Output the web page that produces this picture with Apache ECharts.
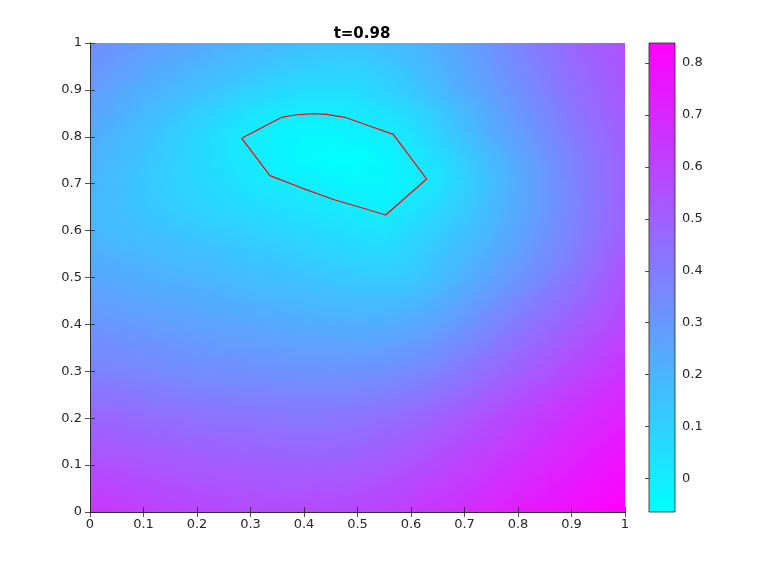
<!DOCTYPE html>
<html>
<head>
<meta charset="utf-8">
<script src="https://cdn.jsdelivr.net/npm/echarts@6/dist/echarts.min.js"></script>
<style>
html, body { margin: 0; padding: 0; background: #fff; }
#chart { width: 768px; height: 576px; }
</style>
</head>
<body>
<div id="chart"></div>
<script>
// sample positions of the level-set field (step 0.05)
var gridX = [0, 0.05, 0.1, 0.15, 0.2, 0.25, 0.3, 0.35, 0.4, 0.45, 0.5, 0.55, 0.6, 0.65, 0.7, 0.75, 0.8, 0.85, 0.9, 0.95, 1];
var gridY = [0, 0.05, 0.1, 0.15, 0.2, 0.25, 0.3, 0.35, 0.4, 0.45, 0.5, 0.55, 0.6, 0.65, 0.7, 0.75, 0.8, 0.85, 0.9, 0.95, 1];

// field values, one row per y
var r100 = [0.34, 0.315, 0.29, 0.265, 0.24, 0.22, 0.20, 0.18, 0.165, 0.155, 0.155, 0.17, 0.19, 0.23, 0.27, 0.32, 0.37, 0.42, 0.47, 0.515, 0.56];
var r095 = [0.315, 0.285, 0.255, 0.228, 0.2, 0.175, 0.15, 0.13, 0.11, 0.105, 0.107, 0.13, 0.16, 0.205, 0.25, 0.30, 0.35, 0.40, 0.455, 0.50, 0.545];
var r090 = [0.29, 0.255, 0.22, 0.19, 0.16, 0.13, 0.10, 0.08, 0.06, 0.055, 0.06, 0.09, 0.13, 0.18, 0.23, 0.28, 0.33, 0.385, 0.44, 0.485, 0.53];
var r085 = [0.26, 0.225, 0.185, 0.15, 0.11, 0.075, 0.035, 0.01, 0.0, 0.0, 0.015, 0.04, 0.07, 0.125, 0.185, 0.25, 0.305, 0.36, 0.42, 0.47, 0.52];
var r080 = [0.23, 0.195, 0.16, 0.12, 0.08, 0.04, -0.005, -0.025, -0.04, -0.04, -0.027, -0.01, 0.035, 0.095, 0.155, 0.22, 0.28, 0.34, 0.40, 0.455, 0.51];
var r075 = [0.21, 0.175, 0.145, 0.11, 0.075, 0.043, 0.01, -0.025, -0.045, -0.06, -0.064, -0.035, 0.0, 0.053, 0.11, 0.18, 0.245, 0.31, 0.375, 0.44, 0.5];
var r070 = [0.2, 0.165, 0.135, 0.105, 0.08, 0.055, 0.03, 0.008, -0.008, -0.024, -0.037, -0.039, -0.011, 0.03, 0.097, 0.165, 0.233, 0.30, 0.368, 0.435, 0.5];
var r065 = [0.195, 0.165, 0.14, 0.115, 0.095, 0.075, 0.06, 0.047, 0.03, 0.015, 0.0, -0.011, 0.026, 0.07, 0.12, 0.18, 0.24, 0.30, 0.365, 0.43, 0.5];
var r060 = [0.19, 0.175, 0.16, 0.145, 0.13, 0.115, 0.10, 0.086, 0.07, 0.056, 0.041, 0.03, 0.065, 0.105, 0.147, 0.2, 0.255, 0.315, 0.375, 0.44, 0.5];
var r055 = [0.22, 0.205, 0.19, 0.175, 0.165, 0.15, 0.135, 0.125, 0.11, 0.095, 0.082, 0.072, 0.095, 0.14, 0.18, 0.225, 0.28, 0.335, 0.39, 0.46, 0.525];
var r050 = [0.25, 0.235, 0.22, 0.21, 0.2, 0.185, 0.17, 0.16, 0.148, 0.135, 0.125, 0.118, 0.125, 0.165, 0.215, 0.26, 0.31, 0.365, 0.42, 0.48, 0.55];
var r045 = [0.28, 0.268, 0.255, 0.245, 0.235, 0.223, 0.21, 0.2, 0.189, 0.18, 0.172, 0.172, 0.183, 0.218, 0.263, 0.31, 0.36, 0.41, 0.46, 0.513, 0.57];
var r040 = [0.31, 0.30, 0.29, 0.28, 0.27, 0.26, 0.25, 0.24, 0.23, 0.225, 0.22, 0.225, 0.24, 0.27, 0.31, 0.36, 0.41, 0.455, 0.50, 0.545, 0.59];
var r035 = [0.345, 0.335, 0.325, 0.315, 0.305, 0.298, 0.29, 0.283, 0.275, 0.272, 0.27, 0.278, 0.295, 0.325, 0.365, 0.41, 0.455, 0.498, 0.54, 0.583, 0.625];
var r030 = [0.38, 0.37, 0.36, 0.35, 0.34, 0.335, 0.33, 0.325, 0.32, 0.318, 0.32, 0.33, 0.35, 0.38, 0.42, 0.46, 0.50, 0.54, 0.58, 0.62, 0.66];
var r025 = [0.43, 0.42, 0.41, 0.40, 0.39, 0.385, 0.38, 0.375, 0.37, 0.37, 0.375, 0.389, 0.41, 0.44, 0.475, 0.513, 0.55, 0.59, 0.63, 0.665, 0.70];
var r020 = [0.48, 0.47, 0.46, 0.45, 0.44, 0.435, 0.43, 0.425, 0.42, 0.423, 0.43, 0.448, 0.47, 0.5, 0.53, 0.565, 0.60, 0.635, 0.67, 0.70, 0.73];
var r015 = [0.52, 0.51, 0.50, 0.49, 0.48, 0.475, 0.47, 0.465, 0.46, 0.463, 0.47, 0.488, 0.51, 0.54, 0.57, 0.603, 0.635, 0.668, 0.70, 0.73, 0.76];
var r010 = [0.56, 0.55, 0.54, 0.53, 0.52, 0.515, 0.51, 0.505, 0.5, 0.503, 0.51, 0.528, 0.55, 0.58, 0.61, 0.64, 0.67, 0.70, 0.73, 0.76, 0.79];
var r005 = [0.605, 0.593, 0.58, 0.568, 0.555, 0.55, 0.545, 0.542, 0.54, 0.544, 0.55, 0.569, 0.59, 0.618, 0.645, 0.675, 0.705, 0.733, 0.76, 0.788, 0.815];
var r000 = [0.65, 0.635, 0.62, 0.605, 0.59, 0.585, 0.58, 0.578, 0.58, 0.585, 0.59, 0.61, 0.63, 0.655, 0.68, 0.71, 0.74, 0.765, 0.79, 0.815, 0.839];

// zero level contour
var contourX = [0.2836, 0.3583, 0.3832, 0.4174, 0.4424, 0.4766, 0.5172, 0.5669, 0.6293, 0.5527, 0.5047, 0.4579, 0.3925, 0.3364, 0.2836];
var contourY = [0.7968, 0.8416, 0.8465, 0.8493, 0.848, 0.8416, 0.8252, 0.8053, 0.71, 0.6333, 0.6497, 0.6652, 0.6923, 0.7171, 0.7968];

var cbarTicks = [0, 0.1, 0.2, 0.3, 0.4, 0.5, 0.6, 0.7, 0.8];
var cMin = -0.0644, cMax = 0.8386;
var coolMap = ['#00ffff', '#ff00ff'];

var rows = [r000, r005, r010, r015, r020, r025, r030, r035, r040, r045, r050,
            r055, r060, r065, r070, r075, r080, r085, r090, r095, r100];

// one item per grid quad: corners and the four corner values
var quads = [];
for (var j = 0; j < gridY.length - 1; j++) {
    for (var i = 0; i < gridX.length - 1; i++) {
        quads.push([gridX[i], gridY[j], gridX[i + 1], gridY[j + 1],
                    rows[j][i], rows[j][i + 1], rows[j + 1][i], rows[j + 1][i + 1]]);
    }
}
var line = contourX.map(function(x, i) { return [x, contourY[i]]; });

function cool(v) {
    var t = (v - cMin) / (cMax - cMin);
    return echarts.color.lerp(Math.max(0, Math.min(1, t)), coolMap);
}

// triangle with linear colour shading (like interp shading)
function shadedTri(p, v) {
    var x1 = p[0][0], y1 = p[0][1];
    var dx2 = p[1][0] - x1, dy2 = p[1][1] - y1, dx3 = p[2][0] - x1, dy3 = p[2][1] - y1;
    var dv2 = v[1] - v[0], dv3 = v[2] - v[0];
    var det = dx2 * dy3 - dx3 * dy2;
    var b = (dv2 * dy3 - dv3 * dy2) / det;
    var c = (dx2 * dv3 - dx3 * dv2) / det;
    var g2 = b * b + c * c;
    var lo = Math.min(v[0], v[1], v[2]), hi = Math.max(v[0], v[1], v[2]);
    var fill;
    if (g2 < 1e-14 || hi - lo < 1e-9) {
        fill = cool(v[0]);
    } else {
        fill = new echarts.graphic.LinearGradient(
            x1 + (lo - v[0]) * b / g2, y1 + (lo - v[0]) * c / g2,
            x1 + (hi - v[0]) * b / g2, y1 + (hi - v[0]) * c / g2,
            [{ offset: 0, color: cool(lo) }, { offset: 1, color: cool(hi) }], true);
    }
    return {
        type: 'polygon', shape: { points: p },
        style: { fill: fill, stroke: fill, lineWidth: 1.1 }
    };
}

function renderQuad(params, api) {
    var a = api.coord([api.value(0), api.value(1)]);
    var b = api.coord([api.value(2), api.value(1)]);
    var c = api.coord([api.value(0), api.value(3)]);
    var d = api.coord([api.value(2), api.value(3)]);
    var v00 = api.value(4), v10 = api.value(5), v01 = api.value(6), v11 = api.value(7);
    return {
        type: 'group',
        children: [
            shadedTri([a, b, d], [v00, v10, v11]),
            shadedTri([a, d, c], [v00, v11, v01])
        ]
    };
}

var axisCol = '#262626';
var lbl = { color: axisCol, fontSize: 13, fontFamily: 'DejaVu Sans' };

function boxAxis(pos, gridIndex, showLabel) {
    return {
        type: 'value', gridIndex: gridIndex, position: pos,
        min: 0, max: 1, interval: 0.1, z: 10,
        axisLine: { show: true, lineStyle: { color: axisCol, width: 0.8 } },
        axisTick: { show: true, inside: true, length: 5, lineStyle: { color: axisCol, width: 0.8 } },
        axisLabel: Object.assign({ show: showLabel, margin: (pos == 'left' ? 8 : 6) }, lbl),
        splitLine: { show: false }
    };
}

var chart = echarts.init(document.getElementById('chart'));
chart.setOption({
    animation: false,
    backgroundColor: '#fff',
    title: {
        text: 't=0.98', left: 357, top: 22, textAlign: 'center',
        textStyle: { fontSize: 15, fontWeight: 'bold', color: '#000', fontFamily: 'DejaVu Sans' }
    },
    grid: [
        { left: 90, top: 43, width: 535, height: 469 },
        {
            left: 649, top: 43, width: 26, height: 469, show: true,
            borderColor: axisCol, borderWidth: 0.8,
            backgroundColor: new echarts.graphic.LinearGradient(0, 0, 0, 1, [
                { offset: 0, color: coolMap[1] },
                { offset: 1, color: coolMap[0] }
            ])
        }
    ],
    xAxis: [
        boxAxis('bottom', 0, true),
        boxAxis('top', 0, false),
        { type: 'value', gridIndex: 1, min: 0, max: 1, show: false }
    ],
    yAxis: [
        boxAxis('left', 0, true),
        boxAxis('right', 0, false),
        {
            type: 'value', gridIndex: 1, position: 'right', min: cMin, max: cMax, z: 10,
            axisLine: { show: false },
            axisTick: { show: true, inside: true, length: 4, customValues: cbarTicks, lineStyle: { color: axisCol, width: 0.8 } },
            axisLabel: Object.assign({ margin: 7, customValues: cbarTicks }, lbl),
            splitLine: { show: false }
        }
    ],
    series: [
        {
            type: 'custom', xAxisIndex: 0, yAxisIndex: 0,
            renderItem: renderQuad, data: quads,
            encode: { x: [0, 2], y: [1, 3] }, silent: true, clip: true
        },
        {
            type: 'line', xAxisIndex: 0, yAxisIndex: 0, data: line,
            symbol: 'none', z: 5, silent: true,
            lineStyle: { color: '#ff0000', width: 1.2 }
        }
    ]
});
</script>
</body>
</html>
